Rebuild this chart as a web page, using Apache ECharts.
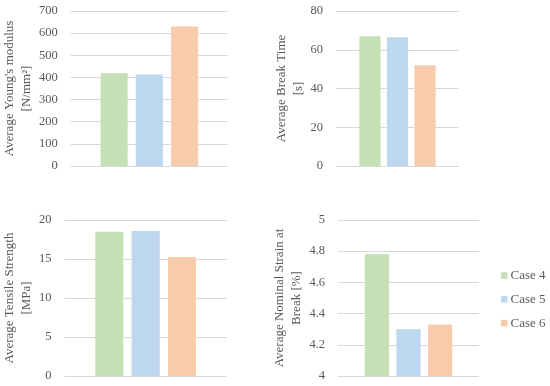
<!DOCTYPE html>
<html><head><meta charset="utf-8">
<script src="https://cdn.jsdelivr.net/npm/echarts@6/dist/echarts.min.js"></script>
<style>html,body{margin:0;padding:0;background:#fff}#c{width:550px;height:386px}</style>
</head><body><div id="c"></div>
<script>
const cases = ['Case 4', 'Case 5', 'Case 6'];
const colors = ['#c5e0b4', '#bdd7ee', '#f8cbad'];
const youngs = [419, 413, 630];
const breakTime = [67.0, 66.5, 52.0];
const tensile = [18.5, 18.6, 15.25];
const strain = [4.78, 4.30, 4.33];
const titles = ["Average Young's modulus\n[N/mm²]", "Average Break Time\n[s]", "Average Tensile Strength\n[MPa]", "Average Nominal Strain at\nBreak [%]"];
const yMin = [0, 0, 0, 4], yMax = [700, 80, 20, 5], yInt = [100, 20, 5, 0.2];
const panels = [youngs, breakTime, tensile, strain];

const font = 'Liberation Serif';
const txt = '#595959';
const grids = [
  {left: 66, width: 162, top: 11, height: 155},
  {left: 336, width: 123, top: 11, height: 155},
  {left: 64, width: 163, top: 220, height: 156},
  {left: 338, width: 141, top: 220, height: 156}
];
const nameGaps = [35, 28, 28, 31];
const xAxis = [], yAxis = [], series = [];
panels.forEach((vals, i) => {
  xAxis.push({type: 'category', gridIndex: i, data: [''], axisLine: {show: false}, axisTick: {show: false}, axisLabel: {show: false}});
  yAxis.push({type: 'value', gridIndex: i, min: yMin[i], max: yMax[i], interval: yInt[i],
    name: titles[i], nameLocation: 'middle', nameGap: nameGaps[i],
    nameTextStyle: {fontFamily: font, fontSize: 13, color: txt, lineHeight: 17},
    axisLabel: {fontFamily: font, fontSize: 12.5, color: txt, margin: 13},
    axisLine: {show: false}, axisTick: {show: false},
    splitLine: {lineStyle: {color: '#d9d9d9', width: 1}}});
  cases.forEach((c, k) => {
    series.push({type: 'bar', name: c, xAxisIndex: i, yAxisIndex: i, data: [vals[k]],
      itemStyle: {color: colors[k]}, barGap: '30%', barCategoryGap: '38%', animation: false});
  });
});
const chart = echarts.init(document.getElementById('c'));
chart.setOption({
  animation: false,
  color: colors,
  grid: grids,
  xAxis, yAxis, series,
  legend: {orient: 'vertical', left: 501, top: 269, padding: 0, itemWidth: 6.5, itemHeight: 6.5, itemGap: 10.8,
    icon: 'rect', data: cases, textStyle: {fontFamily: font, fontSize: 13, color: txt, padding: [0, 0, 0, -2]}}
});
</script></body></html>
